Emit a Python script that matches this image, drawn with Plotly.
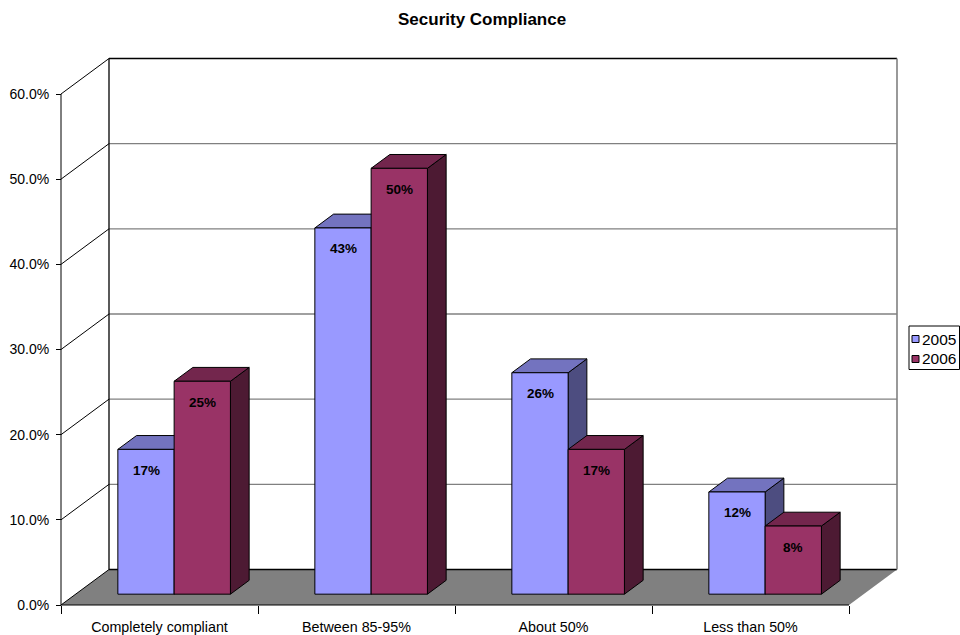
import plotly.graph_objects as go

# ---- data -------------------------------------------------------------
CATEGORIES = ["Completely compliant", "Between 85-95%", "About 50%", "Less than 50%"]
SERIES = ["2005", "2006"]
VALUES_2005 = [17, 43, 26, 12]
VALUES_2006 = [25, 50, 17, 8]
Y_TICKS = [0, 10, 20, 30, 40, 50, 60]

# ---- styling ------------------------------------------------------------
FRONT = ["#9999FF", "#993366"]
TOP = ["#7373BF", "#73264D"]
SIDE = ["#4D4D80", "#4D1A33"]
FONT = "Liberation Sans, Arial, sans-serif"

W, H = 960, 635
PX_CAT = 197.0            # pixels per category on the front plane
PX_VAL = 511.0 / 60.0     # pixels per percentage point
X0_PX, Y0_PX = 61.0, 605.0

# oblique depth offset of the box (data units)
DX = 48.0 / PX_CAT
DY = 35.5 / PX_VAL
D0, D1 = 0.305, 0.695     # bar depth span inside the box

BAR_W = 1.0 / 3.5         # gap width 150 %
GAP = 0.75 * BAR_W

x_range = [(0 - X0_PX) / PX_CAT, (W - X0_PX) / PX_CAT]
y_range = [(Y0_PX - H) / PX_VAL, Y0_PX / PX_VAL]
n_cat = len(CATEGORIES)
top_v = Y_TICKS[-1]


def proj(x, v, d):
    return x + d * DX, v + d * DY


def poly(points, fill, line_color="black", width=1.0):
    xs = [p[0] for p in points] + [points[0][0]]
    ys = [p[1] for p in points] + [points[0][1]]
    return go.Scatter(x=xs, y=ys, mode="lines", fill="toself", fillcolor=fill,
                      line=dict(color=line_color, width=width),
                      hoverinfo="skip", showlegend=False)


def seg(p, q, color, width):
    return go.Scatter(x=[p[0], q[0]], y=[p[1], q[1]], mode="lines",
                      line=dict(color=color, width=width),
                      hoverinfo="skip", showlegend=False)


fig = go.Figure()

# floor
floor = [proj(0, 0, 0), proj(n_cat, 0, 0), proj(n_cat, 0, 1), proj(0, 0, 1)]
fig.add_trace(poly(floor, "#808080", line_color="rgba(0,0,0,0)", width=0))

# side wall diagonals and back wall gridlines
for v in Y_TICKS:
    fig.add_trace(seg(proj(0, v, 0), proj(0, v, 1), "black", 1.0))
    if 0 < v < top_v:
        fig.add_trace(seg(proj(0, v, 1), proj(n_cat, v, 1), "#808080", 1.3))
fig.add_trace(seg(proj(0, top_v, 1), proj(n_cat, top_v, 1), "black", 1.6))
fig.add_trace(seg(proj(0, 0, 1), proj(n_cat, 0, 1), "black", 1.3))
fig.add_trace(seg(proj(0, 0, 1), proj(0, top_v, 1), "black", 1.3))
fig.add_trace(seg(proj(n_cat, 0, 1), proj(n_cat, top_v, 1), "#808080", 1.6))

# front axis lines
fig.add_trace(seg((0, 0), (0, top_v), "black", 1.0))
fig.add_trace(seg((0, 0), (n_cat, 0), "black", 1.0))

# bars, drawn left to right
annotations = []
for ci in range(n_cat):
    for si, vals in enumerate([VALUES_2005, VALUES_2006]):
        v = vals[ci]
        xl = ci + GAP + si * BAR_W
        xr = xl + BAR_W
        front = [proj(xl, 0, D0), proj(xr, 0, D0), proj(xr, v, D0), proj(xl, v, D0)]
        top = [proj(xl, v, D0), proj(xr, v, D0), proj(xr, v, D1), proj(xl, v, D1)]
        side = [proj(xr, 0, D0), proj(xr, 0, D1), proj(xr, v, D1), proj(xr, v, D0)]
        fig.add_trace(poly(side, SIDE[si]))
        fig.add_trace(poly(top, TOP[si]))
        fig.add_trace(poly(front, FRONT[si]))
        cx, cy = proj((xl + xr) / 2, v, D0)
        annotations.append(dict(
            x=cx, y=cy, xref="x", yref="y", text=f"{v}%", showarrow=False,
            yanchor="middle", xanchor="center", yshift=-21,
            font=dict(family=FONT, size=13.5, color="black", weight="bold")))

# title
annotations.append(dict(
    x=482 / W, y=1 - 20 / H, xref="paper", yref="paper", text="Security Compliance",
    showarrow=False, xanchor="center", yanchor="middle",
    font=dict(family=FONT, size=17, color="black", weight="bold")))

# legend (drawn by hand so the box stays compact)
shapes = []
lg_x0, lg_x1, lg_y0, lg_y1 = 909, 959.5, 326, 369.5
shapes.append(dict(type="rect", xref="paper", yref="paper",
                   x0=lg_x0 / W, x1=lg_x1 / W, y0=1 - lg_y1 / H, y1=1 - lg_y0 / H,
                   line=dict(color="black", width=1), fillcolor="white"))
for si, name in enumerate(SERIES):
    cy = 339 + si * 20
    shapes.append(dict(type="rect", xref="paper", yref="paper",
                       x0=912 / W, x1=919 / W, y0=1 - (cy + 3.5) / H, y1=1 - (cy - 3.5) / H,
                       line=dict(color="black", width=1), fillcolor=FRONT[si]))
    annotations.append(dict(
        x=920 / W, y=1 - cy / H, xref="paper", yref="paper", text=name,
        showarrow=False, xanchor="left", yanchor="middle",
        font=dict(family=FONT, size=15.5, color="black")))

fig.update_layout(
    width=W, height=H,
    margin=dict(l=0, r=0, t=0, b=0),
    paper_bgcolor="white", plot_bgcolor="white",
    showlegend=False,
    annotations=annotations,
    shapes=shapes,
    xaxis=dict(
        range=x_range, anchor="free", position=(H - Y0_PX) / H,
        showgrid=False, zeroline=False, showline=False,
        tickmode="array", tickvals=[i + 0.5 for i in range(n_cat)], ticktext=CATEGORIES,
        ticks="outside", ticklen=9, tickcolor="rgba(0,0,0,0)",
        tickfont=dict(family=FONT, size=14.3, color="black"),
        minor=dict(tickmode="array", tickvals=list(range(n_cat + 1)),
                   ticks="outside", ticklen=8, tickcolor="black", tickwidth=1,
                   showgrid=False),
        automargin=False, fixedrange=True,
    ),
    yaxis=dict(
        range=y_range, anchor="free", position=X0_PX / W,
        showgrid=False, zeroline=False, showline=False,
        tickmode="array", tickvals=Y_TICKS, ticktext=[f"{v:.1f}%" for v in Y_TICKS],
        ticks="outside", ticklen=5, tickcolor="black", tickwidth=1,
        ticklabelstandoff=4,
        tickfont=dict(family=FONT, size=14, color="black"),
        automargin=False, fixedrange=True,
    ),
)

fig.write_html("out.html")
